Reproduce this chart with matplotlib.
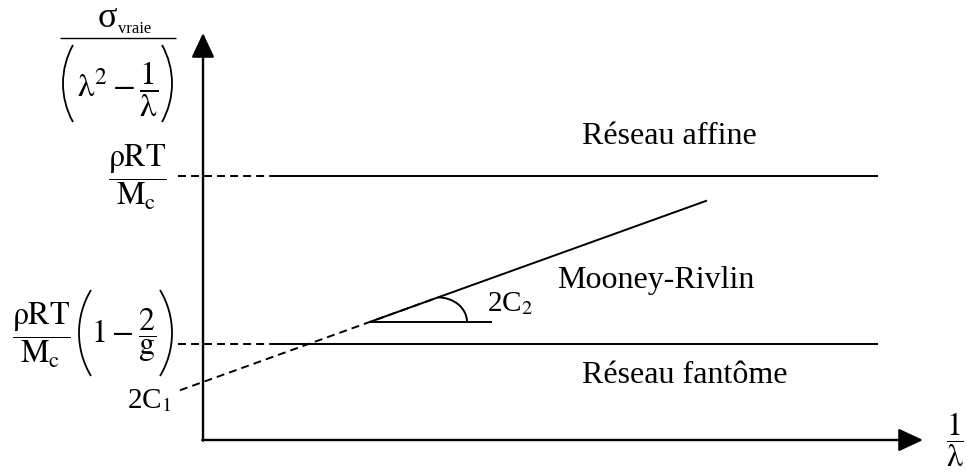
import matplotlib
matplotlib.use("Agg")
import matplotlib.pyplot as plt
import numpy as np
from matplotlib.patches import Arc

plt.rcParams['font.family'] = ['Liberation Serif', 'DejaVu Serif']
plt.rcParams['mathtext.fontset'] = 'stix'
plt.rcParams['mathtext.default'] = 'rm'

# ---- schematic values (arbitrary units) ----
x_axis_end = 7.2
y_axis_end = 4.07
affine_level = 2.64          # rho R T / Mc
phantom_level = 0.96         # rho R T / Mc (1 - 2/g)
C1_2 = 0.58                  # intercept 2C1
C2_2 = 0.36                  # slope 2C2
h_dash_x = [-0.25, 0.72]     # dashed part of horizontal levels
h_solid_x = [0.72, 6.75]     # solid part of horizontal levels
mr_solid_x = [1.67, 5.04]    # Mooney-Rivlin solid segment
mr_dash_x = [-0.23, 2.35]    # extrapolation (dashed)
slope_ref_x = [1.67, 2.89]   # horizontal reference for the angle
labels_curves = ["Réseau affine", "Mooney-Rivlin", "Réseau fantôme"]

fig = plt.figure(figsize=(9.71, 4.73), dpi=100)
ax = fig.add_axes([0, 0, 1, 1])
ax.set_xlim(-2.03, 9.71 - 2.03)
ax.set_ylim(4.40 - 4.73, 4.40)
ax.axis('off')

lw_axis = 1.7
lw = 1.4
dash = (0, (4.1, 2.6))

arrow_style = '-|>,head_length=0.75,head_width=0.35'
# axes with arrows
ax.annotate('', xy=(0, y_axis_end), xytext=(0, -0.007),
            arrowprops=dict(arrowstyle=arrow_style, mutation_scale=20,
                            lw=lw_axis, color='k', shrinkA=0, shrinkB=0),
            annotation_clip=False)
ax.annotate('', xy=(x_axis_end, 0), xytext=(-0.008, 0),
            arrowprops=dict(arrowstyle=arrow_style, mutation_scale=20,
                            lw=lw_axis, color='k', shrinkA=0, shrinkB=0),
            annotation_clip=False)

# horizontal levels
for lev in (affine_level, phantom_level):
    ax.plot(h_dash_x, [lev, lev], color='k', lw=lw, ls=dash)
    ax.plot(h_solid_x, [lev, lev], color='k', lw=lw, solid_capstyle='butt')

# Mooney-Rivlin line
xs = np.array(mr_solid_x)
ax.plot(xs, C1_2 + C2_2 * xs, color='k', lw=lw, solid_capstyle='butt')
xd = np.array(mr_dash_x)
ax.plot(xd, C1_2 + C2_2 * xd, color='k', lw=lw, ls=dash)

# angle indicator
y0 = C1_2 + C2_2 * slope_ref_x[0]
ax.plot(slope_ref_x, [y0, y0], color='k', lw=lw, solid_capstyle='butt')
xc = mr_dash_x[1]
yc_top = C1_2 + C2_2 * xc
ax.add_patch(Arc((xc, y0), 2 * 0.29, 2 * (yc_top - y0), theta1=0, theta2=90,
                 color='k', lw=lw))

# curve labels
fs = 23
ax.text(4.66, 2.96, labels_curves[0], fontsize=fs, ha='center', va='baseline')
ax.text(4.53, 1.52, labels_curves[1], fontsize=fs, ha='center', va='baseline')
ax.text(4.82, 0.57, labels_curves[2], fontsize=fs, ha='center', va='baseline')
ax.text(2.84, 1.29, r'2C$_2$', fontsize=21, ha='left', va='baseline')
ax.text(-0.31, 0.32, r'2C$_1$', fontsize=21, ha='right', va='baseline')


def paren(x_edge, y_top, y_bot, depth, side):
    """Thin equation-editor style parenthesis drawn as a circular arc."""
    half = (y_top - y_bot) / 2.0
    R = (half ** 2 + depth ** 2) / (2 * depth)
    th = np.degrees(np.arcsin(half / R))
    ym = (y_top + y_bot) / 2.0
    if side == 'left':
        ax.add_patch(Arc((x_edge + R, ym), 2 * R, 2 * R,
                         theta1=180 - th, theta2=180 + th, color='k', lw=1.3))
    else:
        ax.add_patch(Arc((x_edge - R, ym), 2 * R, 2 * R,
                         theta1=-th, theta2=th, color='k', lw=1.3))


# y-axis label: sigma_vraie / (lambda^2 - 1/lambda)
ax.text(-0.86, 4.13, 'σ', fontsize=26, ha='right', va='baseline')
ax.text(-0.85, 4.075, 'vraie', fontsize=12, ha='left', va='baseline')
ax.plot([-1.43, -0.27], [4.02, 4.02], color='k', lw=1.0, solid_capstyle='butt')
paren(-1.40, 3.95, 3.18, 0.10, 'left')
paren(-0.31, 3.95, 3.18, 0.10, 'right')
ax.text(-0.855, 3.51, r'$\lambda^{2}-\dfrac{1}{\lambda}$',
        fontsize=24, ha='center', va='center')

# level labels
mfs = 23
ax.text(-0.66, 2.63, r'$\dfrac{\rho\mathrm{RT}}{\mathrm{M_c}}$',
        fontsize=mfs, ha='center', va='center')
ax.text(-1.615, 1.05, r'$\dfrac{\rho\mathrm{RT}}{\mathrm{M_c}}$',
        fontsize=mfs, ha='center', va='center')
paren(-1.24, 1.50, 0.64, 0.12, 'left')
paren(-0.31, 1.50, 0.64, 0.12, 'right')
ax.text(-0.79, 1.05, r'$1-\dfrac{2}{\mathrm{g}}$',
        fontsize=mfs, ha='center', va='center')
ax.text(7.52, 0.0, r'$\dfrac{1}{\lambda}$', fontsize=mfs, ha='center', va='center')

fig.savefig('out.png', dpi=100)
